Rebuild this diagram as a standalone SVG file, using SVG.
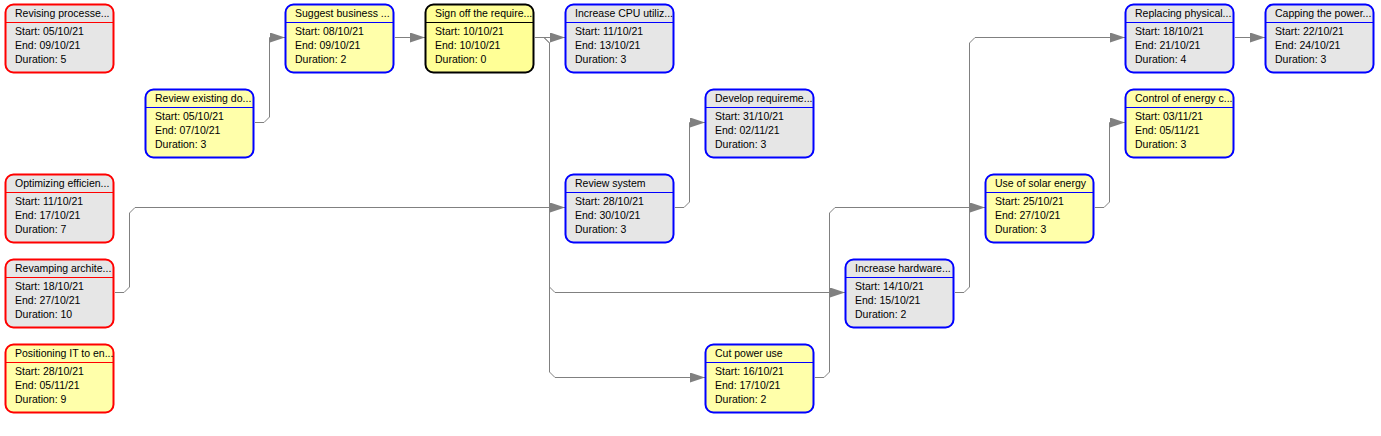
<svg xmlns="http://www.w3.org/2000/svg" width="1381" height="436" viewBox="0 0 1381 436">
<defs>
<style>
.bg{fill:#ffffff}
.box{stroke-width:2}
.gray{fill:#e6e6e6}
.yel{fill:#ffffaa}
.yel2{fill:#ffff96}
.red{stroke:#ff0000}
.blue{stroke:#0000ff}
.black{stroke:#000000}
.sep{stroke-width:1}
text{font-family:"Liberation Sans",Arial,sans-serif;font-size:10.5px;fill:#000000}
.edge{fill:none;stroke:#808080;stroke-width:1;marker-end:url(#arr)}
</style>
<marker id="arr" markerUnits="userSpaceOnUse" markerWidth="15" markerHeight="10" viewBox="0 0 15 10" refX="15" refY="5" orient="auto">
<path d="M0 0 L15 5 L0 10 Z" fill="#808080"/>
</marker>
</defs>
<rect class="bg" x="0" y="0" width="1381" height="436"/>
<g id="connectors">
<path class="edge" d="M255 122.5 H264 L269.5 117 V37.5 H285"/>
<path class="edge" d="M395 37.5 H425"/>
<path class="edge" d="M535 37.5 H565"/>
<path class="edge" d="M535 37.5 H544 L549.5 43 V372 L555 377.5 H705"/>
<path class="edge" d="M535 37.5 H544 L549.5 43 V287 L555 292.5 H845"/>
<path class="edge" d="M115 292.5 H124 L129.5 287 V213 L135 207.5 H565"/>
<path class="edge" d="M675 207.5 H684 L689.5 202 V122.5 H705"/>
<path class="edge" d="M815 377.5 H824 L829.5 372 V213 L835 207.5 H985"/>
<path class="edge" d="M955 292.5 H964 L969.5 287 V43 L975 37.5 H1125"/>
<path class="edge" d="M1095 207.5 H1104 L1109.5 202 V122.5 H1125"/>
<path class="edge" d="M1235 37.5 H1265"/>
</g>
<g id="n1" transform="translate(5,4)"><rect class="box gray red" x="0.5" y="0.5" width="108" height="68" rx="8"/><line class="sep red" x1="1" y1="18.5" x2="108" y2="18.5"/><text x="10" y="13.3">Revising processe...</text><text x="10" y="31">Start: 05/10/21</text><text x="10" y="44.7">End: 09/10/21</text><text x="10" y="58.7">Duration: 5</text></g>
<g id="n2" transform="translate(145,89)"><rect class="box yel blue" x="0.5" y="0.5" width="108" height="68" rx="8"/><line class="sep blue" x1="1" y1="18.5" x2="108" y2="18.5"/><text x="10" y="13.3">Review existing do...</text><text x="10" y="31">Start: 05/10/21</text><text x="10" y="44.7">End: 07/10/21</text><text x="10" y="58.7">Duration: 3</text></g>
<g id="n3" transform="translate(285,4)"><rect class="box yel blue" x="0.5" y="0.5" width="108" height="68" rx="8"/><line class="sep blue" x1="1" y1="18.5" x2="108" y2="18.5"/><text x="10" y="13.3">Suggest business ...</text><text x="10" y="31">Start: 08/10/21</text><text x="10" y="44.7">End: 09/10/21</text><text x="10" y="58.7">Duration: 2</text></g>
<g id="n4" transform="translate(425,4)"><rect class="box yel2 black" x="0.5" y="0.5" width="108" height="68" rx="8"/><line class="sep black" x1="1" y1="18.5" x2="108" y2="18.5"/><text x="10" y="13.3">Sign off the require...</text><text x="10" y="31">Start: 10/10/21</text><text x="10" y="44.7">End: 10/10/21</text><text x="10" y="58.7">Duration: 0</text></g>
<g id="n5" transform="translate(565,4)"><rect class="box gray blue" x="0.5" y="0.5" width="108" height="68" rx="8"/><line class="sep blue" x1="1" y1="18.5" x2="108" y2="18.5"/><text x="10" y="13.3">Increase CPU utiliz...</text><text x="10" y="31">Start: 11/10/21</text><text x="10" y="44.7">End: 13/10/21</text><text x="10" y="58.7">Duration: 3</text></g>
<g id="n6" transform="translate(5,174)"><rect class="box gray red" x="0.5" y="0.5" width="108" height="68" rx="8"/><line class="sep red" x1="1" y1="18.5" x2="108" y2="18.5"/><text x="10" y="13.3">Optimizing efficien...</text><text x="10" y="31">Start: 11/10/21</text><text x="10" y="44.7">End: 17/10/21</text><text x="10" y="58.7">Duration: 7</text></g>
<g id="n7" transform="translate(5,259)"><rect class="box gray red" x="0.5" y="0.5" width="108" height="68" rx="8"/><line class="sep red" x1="1" y1="18.5" x2="108" y2="18.5"/><text x="10" y="13.3">Revamping archite...</text><text x="10" y="31">Start: 18/10/21</text><text x="10" y="44.7">End: 27/10/21</text><text x="10" y="58.7">Duration: 10</text></g>
<g id="n8" transform="translate(5,344)"><rect class="box yel red" x="0.5" y="0.5" width="108" height="68" rx="8"/><line class="sep red" x1="1" y1="18.5" x2="108" y2="18.5"/><text x="10" y="13.3">Positioning IT to en...</text><text x="10" y="31">Start: 28/10/21</text><text x="10" y="44.7">End: 05/11/21</text><text x="10" y="58.7">Duration: 9</text></g>
<g id="n9" transform="translate(565,174)"><rect class="box gray blue" x="0.5" y="0.5" width="108" height="68" rx="8"/><line class="sep blue" x1="1" y1="18.5" x2="108" y2="18.5"/><text x="10" y="13.3">Review system</text><text x="10" y="31">Start: 28/10/21</text><text x="10" y="44.7">End: 30/10/21</text><text x="10" y="58.7">Duration: 3</text></g>
<g id="n10" transform="translate(705,89)"><rect class="box gray blue" x="0.5" y="0.5" width="108" height="68" rx="8"/><line class="sep blue" x1="1" y1="18.5" x2="108" y2="18.5"/><text x="10" y="13.3">Develop requireme...</text><text x="10" y="31">Start: 31/10/21</text><text x="10" y="44.7">End: 02/11/21</text><text x="10" y="58.7">Duration: 3</text></g>
<g id="n11" transform="translate(705,344)"><rect class="box yel blue" x="0.5" y="0.5" width="108" height="68" rx="8"/><line class="sep blue" x1="1" y1="18.5" x2="108" y2="18.5"/><text x="10" y="13.3">Cut power use</text><text x="10" y="31">Start: 16/10/21</text><text x="10" y="44.7">End: 17/10/21</text><text x="10" y="58.7">Duration: 2</text></g>
<g id="n12" transform="translate(845,259)"><rect class="box gray blue" x="0.5" y="0.5" width="108" height="68" rx="8"/><line class="sep blue" x1="1" y1="18.5" x2="108" y2="18.5"/><text x="10" y="13.3">Increase hardware...</text><text x="10" y="31">Start: 14/10/21</text><text x="10" y="44.7">End: 15/10/21</text><text x="10" y="58.7">Duration: 2</text></g>
<g id="n13" transform="translate(985,174)"><rect class="box yel blue" x="0.5" y="0.5" width="108" height="68" rx="8"/><line class="sep blue" x1="1" y1="18.5" x2="108" y2="18.5"/><text x="10" y="13.3">Use of solar energy</text><text x="10" y="31">Start: 25/10/21</text><text x="10" y="44.7">End: 27/10/21</text><text x="10" y="58.7">Duration: 3</text></g>
<g id="n14" transform="translate(1125,4)"><rect class="box gray blue" x="0.5" y="0.5" width="108" height="68" rx="8"/><line class="sep blue" x1="1" y1="18.5" x2="108" y2="18.5"/><text x="10" y="13.3">Replacing physical...</text><text x="10" y="31">Start: 18/10/21</text><text x="10" y="44.7">End: 21/10/21</text><text x="10" y="58.7">Duration: 4</text></g>
<g id="n15" transform="translate(1125,89)"><rect class="box yel blue" x="0.5" y="0.5" width="108" height="68" rx="8"/><line class="sep blue" x1="1" y1="18.5" x2="108" y2="18.5"/><text x="10" y="13.3">Control of energy c...</text><text x="10" y="31">Start: 03/11/21</text><text x="10" y="44.7">End: 05/11/21</text><text x="10" y="58.7">Duration: 3</text></g>
<g id="n16" transform="translate(1265,4)"><rect class="box gray blue" x="0.5" y="0.5" width="108" height="68" rx="8"/><line class="sep blue" x1="1" y1="18.5" x2="108" y2="18.5"/><text x="10" y="13.3">Capping the power...</text><text x="10" y="31">Start: 22/10/21</text><text x="10" y="44.7">End: 24/10/21</text><text x="10" y="58.7">Duration: 3</text></g>
</svg>
